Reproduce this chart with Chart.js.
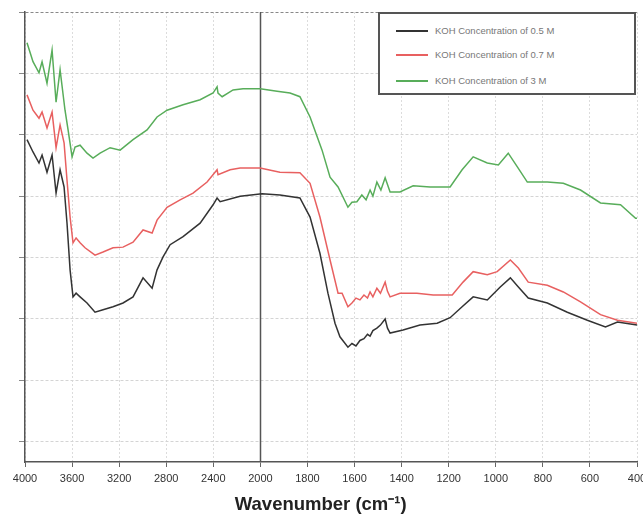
<!DOCTYPE html>
<html>
<head>
<meta charset="utf-8">
<title>FTIR KOH</title>
<script src="https://cdn.jsdelivr.net/npm/chart.js"></script>
<style>
  html, body { margin: 0; padding: 0; background: #fff; }
  #wrap { position: relative; width: 643px; height: 520px; }
  #legend {
    position: absolute; left: 378px; top: 12px; width: 254px; height: 79px;
    border: 2px solid #555; background: #fff;
    font-family: "Liberation Sans", Arial, sans-serif; font-size: 9.5px; color: #777;
  }
  #legend .row { position: absolute; left: 16px; height: 12px; line-height: 12px; white-space: nowrap; }
  #legend .sw { display: inline-block; width: 32px; height: 2px; vertical-align: middle; margin-right: 7px; }
</style>
</head>
<body>
<div id="wrap">
  <canvas id="ftir" width="643" height="520"></canvas>
  <div id="legend"></div>
</div>
<script>
// wavenumbers (cm-1) and transmittance
const wnBlack = [3983, 3932, 3881, 3855, 3813, 3770, 3736, 3702, 3668, 3643, 3617, 3592, 3566, 3532, 3473, 3405, 3337, 3252, 3167, 3082, 2997, 2920, 2878, 2827, 2767, 2657, 2512, 2402, 2368, 2342, 2172, 1993, 1917, 1832, 1789, 1747, 1713, 1683, 1662, 1628, 1611, 1594, 1577, 1560, 1545, 1534, 1522, 1505, 1490, 1470, 1460, 1449, 1394, 1322, 1249, 1194, 1143, 1096, 1036, 981, 938, 904, 862, 781, 696, 611, 534, 483, 400];
const tBlack = [79.2, 77.2, 75.4, 76.7, 73.9, 76.7, 70.5, 74.3, 71.5, 65.6, 58.0, 53.6, 54.2, 53.6, 52.6, 51.1, 51.5, 52.0, 52.6, 53.6, 56.7, 55.0, 58.0, 60.1, 62.1, 63.4, 65.6, 68.6, 69.7, 69.1, 70.0, 70.4, 70.2, 69.7, 66.6, 60.7, 54.2, 49.3, 47.1, 45.4, 46.0, 45.6, 46.5, 46.8, 47.5, 47.2, 48.1, 48.5, 49.0, 50.0, 48.5, 47.7, 48.2, 49.0, 49.3, 50.2, 52.0, 53.6, 53.1, 55.2, 56.7, 55.2, 53.4, 52.6, 51.1, 49.8, 48.7, 49.5, 49.0];

const wnRed = [3983, 3932, 3881, 3855, 3813, 3770, 3736, 3702, 3668, 3643, 3617, 3592, 3566, 3532, 3490, 3405, 3337, 3252, 3167, 3082, 2997, 2920, 2878, 2793, 2682, 2572, 2453, 2368, 2360, 2257, 2172, 2002, 1917, 1832, 1789, 1747, 1704, 1670, 1653, 1628, 1611, 1594, 1577, 1560, 1545, 1534, 1522, 1505, 1490, 1470, 1460, 1449, 1407, 1335, 1266, 1185, 1139, 1096, 1036, 994, 938, 904, 862, 781, 713, 640, 555, 483, 400];
const tRed = [86.5, 84.0, 82.7, 83.7, 81.1, 83.7, 77.9, 81.6, 78.7, 72.6, 66.6, 62.4, 63.2, 62.4, 61.6, 60.4, 60.9, 61.6, 61.7, 62.5, 64.5, 64.0, 66.1, 68.2, 69.4, 70.5, 72.3, 74.3, 73.5, 74.3, 74.6, 74.6, 73.9, 73.8, 72.1, 66.6, 59.6, 54.2, 54.2, 52.0, 52.6, 53.4, 53.1, 53.9, 53.4, 54.4, 53.6, 55.0, 54.2, 56.0, 54.5, 53.6, 54.2, 54.2, 53.9, 53.9, 56.0, 57.7, 57.2, 57.7, 59.6, 58.3, 56.0, 55.5, 54.4, 52.8, 50.7, 49.8, 49.3];

const wnGreen = [3983, 3932, 3881, 3855, 3813, 3770, 3736, 3702, 3660, 3634, 3600, 3575, 3532, 3473, 3422, 3362, 3277, 3192, 3082, 2963, 2878, 2793, 2657, 2512, 2402, 2368, 2360, 2325, 2232, 2147, 2002, 1929, 1874, 1832, 1789, 1738, 1704, 1670, 1628, 1611, 1590, 1569, 1551, 1534, 1522, 1505, 1488, 1470, 1449, 1407, 1351, 1279, 1194, 1143, 1096, 1036, 989, 947, 909, 866, 781, 713, 640, 555, 470, 406, 400];
const tGreen = [95.0, 91.9, 90.1, 91.9, 88.4, 93.8, 85.3, 90.6, 84.0, 80.8, 76.4, 78.0, 78.3, 77.0, 76.2, 77.0, 77.9, 77.5, 79.2, 80.8, 82.9, 84.0, 84.9, 85.7, 86.8, 87.8, 86.8, 86.2, 87.3, 87.5, 87.5, 87.1, 86.8, 86.2, 82.9, 77.5, 73.1, 71.5, 68.2, 69.0, 69.1, 70.2, 69.4, 71.0, 70.0, 72.3, 71.0, 73.0, 70.7, 70.7, 71.7, 71.5, 71.5, 74.3, 76.4, 75.4, 75.1, 77.0, 74.8, 72.3, 72.3, 72.1, 71.0, 68.9, 68.6, 66.4, 66.4];

const seriesNames = ['KOH Concentration of 0.5 M', 'KOH Concentration of 0.7 M', 'KOH Concentration of 3 M'];
const seriesColors = ['#333333', '#e86060', '#58ad5a'];
const yTicks = [30, 40, 50, 60, 70, 80, 90, 100];

// split axis: 4000-2000 in steps of 400, 2000-400 in steps of 200, same spacing
const toIdx = w => w >= 2000 ? (4000 - w) / 400 : 5 + (2000 - w) / 200;
const fromIdx = i => i <= 5 ? 4000 - i * 400 : 2000 - (i - 5) * 200;

const toPoints = (wn, t) => wn.map((w, i) => ({ x: toIdx(w), y: t[i] }));

const breakLine = {
  id: 'breakLine',
  beforeDatasetsDraw(chart) {
    const { ctx, chartArea, scales } = chart;
    const x = Math.round(scales.x.getPixelForValue(toIdx(2000))) + 0.5;
    ctx.save();
    ctx.strokeStyle = '#555';
    ctx.lineWidth = 1.5;
    ctx.beginPath();
    ctx.moveTo(x, chartArea.top);
    ctx.lineTo(x, chartArea.bottom);
    ctx.stroke();
    ctx.restore();
  }
};

new Chart(document.getElementById('ftir'), {
  type: 'line',
  data: {
    datasets: [
      { label: seriesNames[0], data: toPoints(wnBlack, tBlack), borderColor: seriesColors[0] },
      { label: seriesNames[1], data: toPoints(wnRed, tRed), borderColor: seriesColors[1] },
      { label: seriesNames[2], data: toPoints(wnGreen, tGreen), borderColor: seriesColors[2] }
    ]
  },
  options: {
    responsive: false,
    animation: false,
    layout: { padding: { top: 12, right: 6, left: 0, bottom: 0 } },
    elements: {
      line: { borderWidth: 1.5, tension: 0, fill: false },
      point: { radius: 0 }
    },
    plugins: { legend: { display: false }, tooltip: { enabled: false } },
    scales: {
      x: {
        type: 'linear',
        min: 0,
        max: 13,
        ticks: {
          stepSize: 1,
          autoSkip: false,
          maxRotation: 0,
          padding: 5,
          color: '#333',
          font: { family: '"Liberation Sans", Arial, sans-serif', size: 11 },
          callback: v => String(fromIdx(v))
        },
        grid: { color: '#dcdcdc', tickColor: '#666', tickLength: 5 },
        border: { color: '#555', width: 1.5, dash: [2, 2] },
        title: {
          display: true,
          // trailing spaces nudge the centred title a little to the left
          text: 'Wavenumber (cm\u207B\u00B9)\u00A0\u00A0\u00A0\u00A0',
          color: '#222',
          font: { family: '"Liberation Sans", Arial, sans-serif', size: 18.5, weight: 'bold' },
          padding: { top: 6, bottom: 4 }
        },
        afterFit(scale) {
          scale.height = 58;
          scale.paddingLeft = 0;
          scale.paddingRight = 0;
        }
      },
      y: {
        min: 26.7,
        max: 100,
        afterBuildTicks(scale) {
          scale.ticks = yTicks.map(v => ({ value: v }));
        },
        ticks: { display: false },
        grid: {
          color: ctx => ctx.tick && ctx.tick.value === 100 ? '#888' : '#d4d4d4',
          tickColor: '#888',
          tickLength: 6
        },
        border: { color: '#555', width: 1.5, dash: [3, 2] },
        afterFit(scale) { scale.width = 25; }
      }
    }
  },
  plugins: [breakLine]
});

// legend box drawn inside the plot, top right
const legend = document.getElementById('legend');
const rowTops = [11, 35, 61];
seriesNames.forEach((name, i) => {
  const row = document.createElement('div');
  row.className = 'row';
  row.style.top = rowTops[i] + 'px';
  row.innerHTML = '<span class="sw" style="background:' + seriesColors[i] + '"></span>' + name;
  legend.appendChild(row);
});
</script>
</body>
</html>
